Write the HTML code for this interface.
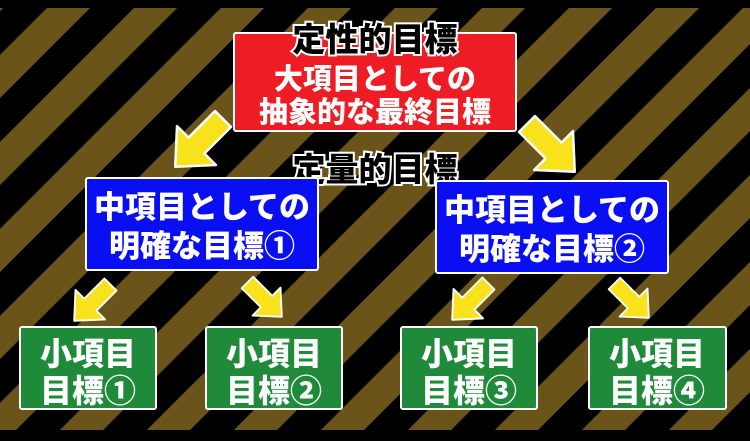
<!DOCTYPE html>
<html><head><meta charset="utf-8"><style>
html,body{margin:0;padding:0;background:#000;}
svg{display:block}
text{font-family:"Liberation Sans","Noto Sans CJK JP",sans-serif;font-weight:900;text-anchor:middle;}
</style></head><body>
<svg width="750" height="441" viewBox="0 0 750 441" xmlns="http://www.w3.org/2000/svg">
<defs>
<pattern id="st" patternUnits="userSpaceOnUse" width="87" height="87">
<g stroke="#6b5419" stroke-width="30.5">
<line x1="89.5" y1="-100" x2="-110.5" y2="100"/>
<line x1="176.5" y1="-100" x2="-23.5" y2="100"/>
<line x1="263.5" y1="-100" x2="63.5" y2="100"/>
</g>
</pattern>
<g id="arr"><path d="M-26,-9 L4,-9 L4,-22 L28,0 L4,22 L4,9 L-26,9 Z" fill="#f8e21c" stroke="#fff" stroke-width="2" stroke-linejoin="round"/></g>
</defs>
<rect x="0" y="0" width="750" height="441" fill="#000"/>
<rect x="0" y="8" width="750" height="422" fill="url(#st)"/>

<use href="#arr" transform="translate(200,142) rotate(135) scale(1.25)"/>
<use href="#arr" transform="translate(550,147) rotate(45) scale(1.25)"/>
<use href="#arr" transform="translate(93,302) rotate(135) scale(0.95)"/>
<use href="#arr" transform="translate(264,299) rotate(45) scale(0.9)"/>
<use href="#arr" transform="translate(471,301) rotate(135) scale(0.95)"/>
<use href="#arr" transform="translate(631,300) rotate(45) scale(0.9)"/>

<rect x="234" y="33" width="282" height="98" fill="#ee1c24" stroke="#fff" stroke-width="2" rx="2"/>
<text x="375" y="51" font-size="33" fill="#000" stroke="#fff" stroke-width="4" paint-order="stroke">定性的目標</text>
<text x="375" y="89" font-size="29" fill="#fff">大項目としての</text>
<text x="375" y="122" font-size="29" fill="#fff">抽象的な最終目標</text>
<text x="375" y="181" font-size="33" fill="#000" stroke="#fff" stroke-width="4" paint-order="stroke">定量的目標</text>

<rect x="86" y="178" width="232" height="92" fill="#0a0ef2" stroke="#fff" stroke-width="2" rx="2"/>
<text x="202" y="218" font-size="31" fill="#fff">中項目としての</text>
<text x="202" y="257" font-size="31" fill="#fff">明確な目標①</text>
<rect x="436" y="181" width="232" height="92" fill="#0a0ef2" stroke="#fff" stroke-width="2" rx="2"/>
<text x="552" y="221" font-size="31" fill="#fff">中項目としての</text>
<text x="552" y="260" font-size="31" fill="#fff">明確な目標②</text>

<g fill="#1e8a3a" stroke="#fff" stroke-width="2">
<rect x="20" y="327" width="136" height="82" rx="2"/>
<rect x="206" y="327" width="136" height="82" rx="2"/>
<rect x="401" y="327" width="136" height="82" rx="2"/>
<rect x="589" y="327" width="137" height="82" rx="2"/>
</g>
<g fill="#fff" font-size="32">
<text x="88" y="365">小項目</text><text x="88" y="402">目標①</text>
<text x="274" y="365">小項目</text><text x="274" y="402">目標②</text>
<text x="469" y="365">小項目</text><text x="469" y="402">目標③</text>
<text x="657" y="365">小項目</text><text x="657" y="402">目標④</text>
</g>
</svg>
</body></html>
